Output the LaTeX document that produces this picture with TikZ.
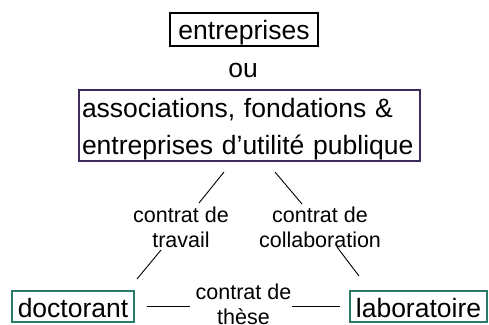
\documentclass[tikz,border=0pt]{standalone}
\usepackage{fontspec}
\setmainfont{Liberation Sans}
\definecolor{boxpurple}{RGB}{61,45,94}
\definecolor{boxteal}{RGB}{42,122,104}
\tikzset{
  bigtext/.style={font=\fontsize{26.5}{37}\selectfont},
  lbltext/.style={font=\fontsize{21.5}{25}\selectfont, align=center, inner sep=0pt},
  topbox/.style={draw=black, line width=2pt, bigtext, inner sep=0pt, anchor=base,
    text height=26.5pt, text depth=6.5pt},
  botbox/.style={draw=boxteal, line width=2pt, bigtext, inner sep=0pt, anchor=base,
    text height=26pt, text depth=5pt},
  conn/.style={line width=0.9pt, black},
}
\begin{document}
\begin{tikzpicture}[x=1pt,y=-1pt]
\useasboundingbox (0,0) rectangle (489,324);
\node[topbox, minimum width=148pt] (ent) at (244,39.5) {entreprises};
\node[bigtext, anchor=base, inner sep=0pt] (ou) at (243,77) {ou};
\node[draw=boxpurple, line width=2pt, bigtext, align=left, text width=335pt,
  inner xsep=3pt, inner ysep=0pt] (assoc) at (249.5,125.5)
  {\rule{0pt}{27pt}associations, fondations \&\\entreprises d’utilité publique\rule[-7pt]{0pt}{7pt}};
\node[botbox, minimum width=122pt] (doc) at (73,317) {doctorant};
\node[botbox, minimum width=137pt] (lab) at (418.5,317) {laboratoire};
\node[lbltext] (travail) at (181,228.5) {\rule{0pt}{17pt}contrat de\\travail\rule[-5pt]{0pt}{5pt}};
\node[lbltext] (collab) at (320,228.5) {\rule{0pt}{17pt}contrat de\\collaboration\rule[-5pt]{0pt}{5pt}};
\node[lbltext] (these) at (243.5,305.5) {\rule{0pt}{17pt}contrat de\\thèse\rule[-5pt]{0pt}{5pt}};
\coordinate (l1a) at (224,172); \coordinate (l1b) at (199,203);
\coordinate (l2a) at (161,250); \coordinate (l2b) at (137,279);
\coordinate (r1a) at (275,172); \coordinate (r1b) at (302,204);
\coordinate (r2a) at (337,247); \coordinate (r2b) at (359,276);
\coordinate (b1a) at (147,306); \coordinate (b1b) at (190,306);
\coordinate (b2a) at (292,306); \coordinate (b2b) at (340,306);
\draw[conn] (l1a) -- (l1b);
\draw[conn] (l2a) -- (l2b);
\draw[conn] (r1a) -- (r1b);
\draw[conn] (r2a) -- (r2b);
\draw[conn] (b1a) -- (b1b);
\draw[conn] (b2a) -- (b2b);
\end{tikzpicture}
\end{document}
